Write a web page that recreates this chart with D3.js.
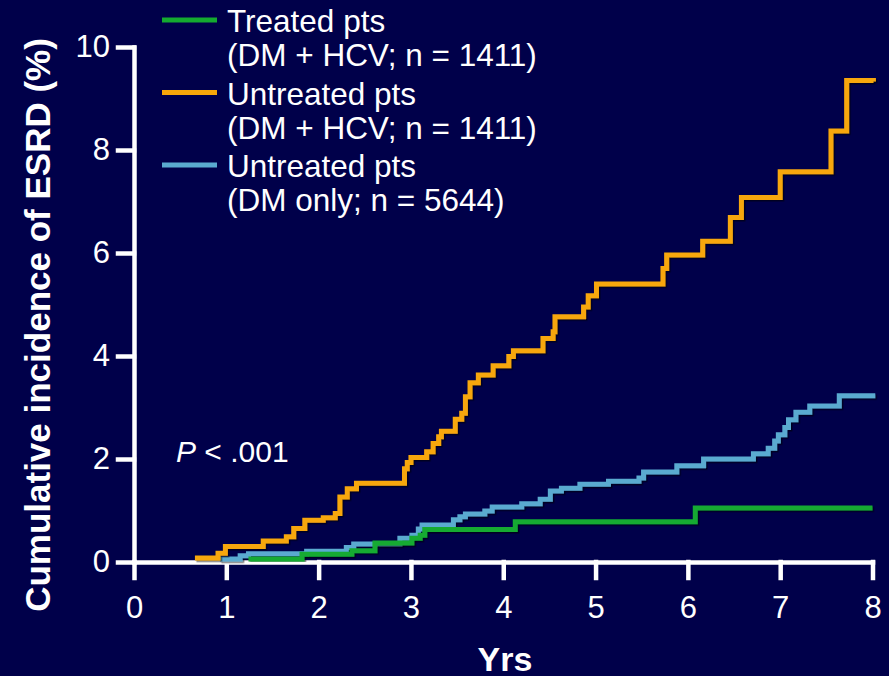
<!DOCTYPE html>
<html>
<head>
<meta charset="utf-8">
<script src="https://cdn.jsdelivr.net/npm/d3@7"></script>
<style>
  html, body { margin: 0; padding: 0; background: #00004a; }
  svg { display: block; }
  text { font-family: "Liberation Sans", Arial, Helvetica, sans-serif; fill: #fff; }
</style>
</head>
<body>
<div id="chart"><svg></svg></div>
<script>
// years since index, cumulative incidence (%)
var treated = [
  [1.24, 0.06], [1.82, 0.15], [2.36, 0.22], [2.61, 0.37], [3.01, 0.46],
  [3.10, 0.52], [3.15, 0.63], [4.13, 0.78], [6.08, 1.05], [8.00, 1.05]
];
var untreatedHcv = [
  [0.66, 0.08], [0.91, 0.17], [0.99, 0.30], [1.40, 0.41], [1.65, 0.49],
  [1.73, 0.65], [1.85, 0.81], [2.05, 0.86], [2.18, 0.94], [2.23, 1.26],
  [2.31, 1.42], [2.41, 1.53], [2.93, 1.81], [2.96, 1.93], [3.00, 2.03],
  [3.17, 2.14], [3.24, 2.30], [3.30, 2.43], [3.33, 2.54], [3.48, 2.77],
  [3.55, 2.89], [3.59, 3.21], [3.64, 3.48], [3.73, 3.63], [3.89, 3.81],
  [4.06, 3.99], [4.11, 4.10], [4.43, 4.34], [4.54, 4.47], [4.56, 4.76],
  [4.87, 4.95], [4.92, 5.17], [5.01, 5.40], [5.73, 5.70], [5.77, 5.96],
  [6.16, 6.23], [6.46, 6.69], [6.58, 7.08], [7.00, 7.58], [7.55, 8.37],
  [7.72, 9.35], [8.01, 9.33]
];
var untreatedDm = [
  [0.93, 0.06], [1.15, 0.12], [1.24, 0.16], [1.87, 0.21], [2.30, 0.28],
  [2.38, 0.35], [2.88, 0.46], [3.01, 0.52], [3.08, 0.64], [3.12, 0.72],
  [3.46, 0.82], [3.53, 0.88], [3.59, 0.93], [3.80, 0.99], [3.88, 1.07],
  [4.20, 1.13], [4.40, 1.22], [4.51, 1.38], [4.63, 1.43], [4.83, 1.51],
  [5.14, 1.57], [5.47, 1.63], [5.52, 1.75], [5.88, 1.87], [6.17, 2.00],
  [6.71, 2.10], [6.87, 2.21], [6.94, 2.35], [6.98, 2.47], [7.05, 2.61],
  [7.09, 2.76], [7.17, 2.91], [7.32, 3.03], [7.64, 3.23], [8.03, 3.23]
];

var xTicks = [0, 1, 2, 3, 4, 5, 6, 7, 8];
var yTicks = [0, 2, 4, 6, 8, 10];

var legendLabels = [
  ["Treated pts", "(DM + HCV; n = 1411)"],
  ["Untreated pts", "(DM + HCV; n = 1411)"],
  ["Untreated pts", "(DM only; n = 5644)"]
];

var width = 889;
var height = 676;
var margin = { top: 47, right: 16, bottom: 114, left: 134 };

var svg = d3.select("#chart > svg")
  .attr("width", width)
  .attr("height", height);

svg.append("rect")
  .attr("width", width)
  .attr("height", height)
  .attr("fill", "#00004a");

var defs = svg.append("defs");
defs.append("filter")
  .attr("id", "shadow")
  .attr("x", "-5%").attr("y", "-5%")
  .attr("width", "110%").attr("height", "110%")
  .append("feDropShadow")
  .attr("dx", 1.5)
  .attr("dy", 1.5)
  .attr("stdDeviation", 0.6)
  .attr("flood-color", "#000")
  .attr("flood-opacity", 0.55);

var g = svg.append("g")
  .attr("transform", `translate(${margin.left}, ${margin.top})`);

var x = d3.scaleLinear().domain([0, 8]).range([0, 738.5]);
var y = d3.scaleLinear().domain([0, 10]).range([515, 0]);

// axes
var xAxis = g.append("g")
  .attr("transform", "translate(0," + y(0) + ")")
  .call(d3.axisBottom(x).tickValues(xTicks).tickSize(16).tickSizeOuter(0).tickPadding(18));

var yAxis = g.append("g")
  .call(d3.axisLeft(y).tickValues(yTicks).tickSize(16).tickSizeOuter(0).tickPadding(8));

[xAxis, yAxis].forEach(a => {
  a.selectAll("path.domain, line")
    .attr("stroke", "#fff")
    .attr("stroke-width", 4.5)
    .attr("stroke-linecap", "square");
  a.selectAll("text")
    .attr("fill", "#fff")
    .style("font-size", "31px")
    .style("font-family", '"Liberation Sans", Arial, sans-serif');
});

// curves
var line = d3.line()
  .curve(d3.curveStepAfter)
  .x(d => x(d[0]))
  .y(d => y(d[1]));

var series = [
  { data: untreatedDm, color: "#5aaad0" },
  { data: treated, color: "#14aa30" },
  { data: untreatedHcv, color: "#f7a70a" }
];

series.forEach(s => {
  g.append("path")
    .datum(s.data)
    .attr("fill", "none")
    .attr("stroke", s.color)
    .attr("stroke-width", 5)
    .attr("filter", "url(#shadow)")
    .attr("d", line);
});

// labels
svg.append("text")
  .attr("transform", "translate(50, 325) rotate(-90)")
  .attr("text-anchor", "middle")
  .style("font-size", "35px")
  .style("font-weight", "bold")
  .text("Cumulative incidence of ESRD (%)");

svg.append("text")
  .attr("x", 505)
  .attr("y", 671)
  .attr("text-anchor", "middle")
  .style("font-size", "34px")
  .style("font-weight", "bold")
  .text("Yrs");

var pText = svg.append("text")
  .attr("x", 176)
  .attr("y", 462)
  .style("font-size", "30px");
pText.append("tspan").style("font-style", "italic").text("P");
pText.append("tspan").text(" < .001");

// legend
var legendColors = ["#14aa30", "#f7a70a", "#5aaad0"];
var legend = svg.append("g");
legendLabels.forEach((lbl, i) => {
  var top = 20 + i * 72.5;
  legend.append("line")
    .attr("x1", 162).attr("x2", 217)
    .attr("y1", top).attr("y2", top)
    .attr("stroke", legendColors[i])
    .attr("stroke-width", 5);
  legend.append("text")
    .attr("x", 227)
    .attr("y", top + 12)
    .style("font-size", "31.5px")
    .text(lbl[0]);
  legend.append("text")
    .attr("x", 227)
    .attr("y", top + 46)
    .style("font-size", "31.5px")
    .text(lbl[1]);
});
</script>
</body>
</html>
